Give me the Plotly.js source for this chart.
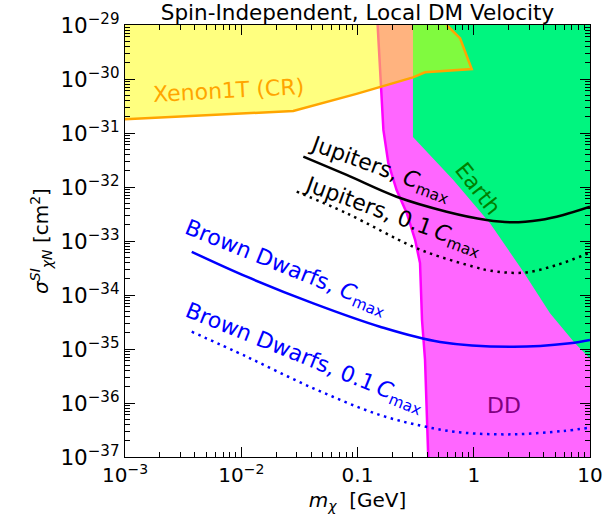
<!DOCTYPE html>
<html>
<head>
<meta charset="utf-8">
<script src="https://cdn.plot.ly/plotly-3.0.1.min.js"></script>
<style>html,body{margin:0;padding:0;background:#fff;}#chart{width:604px;height:522px;}</style>
</head>
<body>
<div id="chart"></div>
<script>
// ---- data (x: m_chi [GeV], y: sigma [cm^2]) ----
const xenonX = [0.001, 0.028, 0.098, 0.161, 0.30, 0.381, 0.96, 0.762, 0.604, 0.585];
const xenonY = [1.8e-31, 2.55e-31, 5.3e-31, 7.2e-31, 1.07e-30, 1.33e-30, 1.53e-30, 5.7e-30, 9.3e-30, 1e-29];

const ddX = [0.149, 0.167, 0.184, 0.217, 0.265, 0.313, 0.345, 0.359, 0.381, 0.406];
const ddY = [1e-29, 1.14e-31, 2.78e-32, 8.8e-33, 3.3e-33, 1.05e-33, 3.9e-34, 3.4e-35, 6.3e-36, 1e-37];

const earthX = [0.3, 0.3, 0.667, 1.38, 2.67, 4.53, 7.43, 10];
const earthY = [1e-29, 8.4e-32, 1.35e-32, 2.13e-33, 2.7e-34, 4.6e-35, 1.28e-35, 6.7e-36];

const jupX = [0.0342, 0.0807, 0.217, 0.585, 1.29, 2.12, 3.72, 5.89, 10];
const jupY = [3.64e-32, 1.67e-32, 6.6e-33, 3.49e-33, 2.45e-33, 2.22e-33, 2.45e-33, 3.03e-33, 4.3e-33];

const jup01X = [0.030, 0.0807, 0.302, 0.513, 1.0, 1.38, 2.67, 5.18, 10];
const jup01Y = [8.2e-33, 3.26e-33, 7.8e-34, 5.1e-34, 3.34e-34, 2.82e-34, 2.59e-34, 3.6e-34, 6.1e-34];

const bdX = [0.00375, 0.01114, 0.0417, 0.156, 0.513, 2.19, 6.73, 10];
const bdY = [6.3e-34, 2.18e-34, 7.0e-35, 2.59e-35, 1.35e-35, 1.10e-35, 1.28e-35, 1.47e-35];

const bd01X = [0.00375, 0.01114, 0.0417, 0.156, 0.449, 0.813, 2.19, 5.89, 10];
const bd01Y = [2.09e-35, 7.2e-36, 1.87e-36, 6.0e-37, 3.4e-37, 2.82e-37, 2.63e-37, 3.03e-37, 3.5e-37];

const xTickVals = [0.001, 0.01, 0.1, 1, 10];
const xTickText = ['10<sup>\u22123</sup>', '10<sup>\u22122</sup>', '0.1', '1', '10'];
const yExps = [-37, -36, -35, -34, -33, -32, -31, -30, -29];

// ---- axis limits ----
const X_MIN = 1e-3, X_MAX = 10, Y_MIN = 1e-37, Y_MAX = 1e-29;

const yTickVals = yExps.map(e => Math.pow(10, e));
const yTickText = yExps.map(e => '10<sup>\u2212' + (-e) + '</sup>');

function minorTicks(e0, e1) {
  const v = [];
  for (let e = e0; e < e1; e++) for (let k = 2; k <= 9; k++) v.push(k * Math.pow(10, e));
  return v;
}

const font = 'DejaVu Sans, Verdana, sans-serif';

const traces = [
  // DD region (fill to the right of the DD curve)
  {x: ddX.concat([X_MAX, X_MAX]), y: ddY.concat([Y_MIN, Y_MAX]), mode: 'lines', fill: 'toself',
   fillcolor: 'rgba(255,0,255,0.6)', line: {width: 0}, hoverinfo: 'skip'},
  {x: ddX, y: ddY, mode: 'lines', line: {color: '#FF00FF', width: 2.5}, hoverinfo: 'skip'},
  // Earth region
  {x: earthX.concat([X_MAX]), y: earthY.concat([Y_MAX]), mode: 'lines', fill: 'toself',
   fillcolor: '#00F57F', line: {width: 0}, hoverinfo: 'skip'},
  // Xenon1T (CR) region
  {x: xenonX.concat([X_MIN]), y: xenonY.concat([Y_MAX]), mode: 'lines', fill: 'toself',
   fillcolor: 'rgba(255,255,0,0.5)', line: {width: 0}, hoverinfo: 'skip'},
  {x: xenonX, y: xenonY, mode: 'lines', line: {color: '#FFA500', width: 2.5}, hoverinfo: 'skip'},
  // curves
  {x: jupX, y: jupY, mode: 'lines', line: {color: 'black', width: 2.5, shape: 'spline', smoothing: 1}},
  {x: jup01X, y: jup01Y, mode: 'lines', line: {color: 'black', width: 2.5, shape: 'spline', smoothing: 1, dash: '2.5px,4.5px'}},
  {x: bdX, y: bdY, mode: 'lines', line: {color: '#0000FF', width: 2.5, shape: 'spline', smoothing: 1}},
  {x: bd01X, y: bd01Y, mode: 'lines', line: {color: '#0000FF', width: 2.5, shape: 'spline', smoothing: 1, dash: '2.5px,4.5px'}}
];

function ann(text, lx, ly, color, angle) {
  return {x: lx, y: ly, xref: 'x', yref: 'y', text: text, showarrow: false, textangle: angle,
          font: {family: font, size: 22, color: color}, xanchor: 'center', yanchor: 'middle'};
}

const layout = {
  width: 604, height: 522,
  margin: {l: 125, r: 14, t: 25, b: 65},
  paper_bgcolor: 'white', plot_bgcolor: 'white',
  showlegend: false,
  font: {family: font, size: 20, color: 'black'},
  title: {text: 'Spin-Independent, Local DM Velocity', font: {family: font, size: 21.5, color: 'black'},
          x: 0.5, xref: 'paper', y: 0.977, yref: 'container', yanchor: 'middle'},
  xaxis: {
    type: 'log', range: [Math.log10(X_MIN), Math.log10(X_MAX)],
    tickmode: 'array', tickvals: xTickVals, ticktext: xTickText,
    ticks: 'inside', ticklen: 10, tickwidth: 1, tickcolor: 'black',
    showline: true, linecolor: 'black', linewidth: 1.2, mirror: 'allticks',
    showgrid: false, zeroline: false,
    tickfont: {family: font, size: 20, color: 'black'},
    minor: {tickmode: 'array', tickvals: minorTicks(-3, 1), ticks: 'inside', ticklen: 5, tickcolor: 'black', showgrid: false},
    title: {text: '<i>m</i><sub><i>\u03c7</i></sub>  [GeV]', font: {family: font, size: 20, color: 'black'}, standoff: 6}
  },
  yaxis: {
    type: 'log', range: [Math.log10(Y_MIN), Math.log10(Y_MAX)],
    tickmode: 'array', tickvals: yTickVals, ticktext: yTickText,
    ticks: 'inside', ticklen: 10, tickwidth: 1, tickcolor: 'black',
    showline: true, linecolor: 'black', linewidth: 1.2, mirror: 'allticks',
    showgrid: false, zeroline: false,
    tickfont: {family: font, size: 21.5, color: 'black'},
    minor: {tickmode: 'array', tickvals: minorTicks(-37, -29), ticks: 'inside', ticklen: 5, tickcolor: 'black', showgrid: false},
    title: {text: '<i>\u03c3</i><sup><i>SI</i></sup><sub><i>\u03c7N</i></sub> [cm<sup>2</sup>]', font: {family: font, size: 20, color: 'black'}, standoff: 6}
  },
  annotations: [
    ann('Xenon1T (CR)', -2.114, -30.222, '#FFA500', -3),
    ann('Jupiters, <i>C</i><sub>max</sub>', -0.806, -31.667, 'black', 20),
    ann('Jupiters, 0.1\u2009<i>C</i><sub>max</sub>', -0.703, -32.537, 'black', 20),
    ann('Earth', 0.037, -32.019, '#008000', 52),
    ann('Brown Dwarfs, <i>C</i><sub>max</sub>', -1.615, -33.5, '#0000FF', 22),
    ann('Brown Dwarfs, 0.1\u2009<i>C</i><sub>max</sub>', -1.46, -35.167, '#0000FF', 22),
    ann('DD', 0.26, -36.037, '#800080', 0)
  ]
};

Plotly.newPlot('chart', traces, layout, {displayModeBar: false, staticPlot: true});
</script>
</body>
</html>
